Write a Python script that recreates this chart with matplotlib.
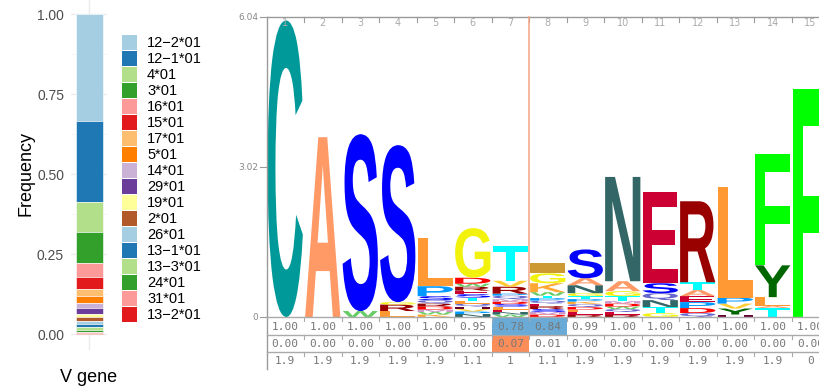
import matplotlib
matplotlib.use('Agg')
import matplotlib.pyplot as plt
from matplotlib.patches import PathPatch, Rectangle
from matplotlib.textpath import TextPath
from matplotlib.font_manager import FontProperties
from matplotlib.transforms import Affine2D
import numpy as np

# ---------------- data ----------------
genes = ['12\u22122*01', '12\u22121*01', '4*01', '3*01', '16*01', '15*01', '17*01', '5*01',
         '14*01', '29*01', '19*01', '2*01', '26*01', '13\u22121*01', '13\u22123*01', '24*01',
         '31*01', '13\u22122*01']
freqs = [0.333, 0.253, 0.096, 0.0955, 0.045, 0.0365, 0.021, 0.0225,
         0.0178, 0.0187, 0.0094, 0.0106, 0.0113, 0.0072, 0.0085, 0.0062,
         0.0048, 0.003]
gene_colors = ['#A6CEE3', '#1F78B4', '#B2DF8A', '#33A02C', '#FB9A99', '#E31A1C',
               '#FDBF6F', '#FF7F00', '#CAB2D6', '#6A3D9A', '#FFFF99', '#B15928',
               '#A6CEE3', '#1F78B4', '#B2DF8A', '#33A02C', '#FB9A99', '#E31A1C']

positions = list(range(1, 16))
# letters per position, bottom to top: (letter, bits)
pos1 = [('C', 5.97)]
pos2 = [('A', 3.62)]
pos3 = [('W', 0.12), ('S', 3.56)]
pos4 = [('L', 0.12), ('R', 0.13), ('G', 0.05), ('S', 3.16)]
pos5 = [('K', 0.05), ('W', 0.05), ('M', 0.05), ('D', 0.06), ('R', 0.06), ('Q', 0.07),
        ('S', 0.08), ('P', 0.2), ('L', 0.97)]
pos6 = [('N', 0.06), ('P', 0.05), ('V', 0.05), ('H', 0.05), ('Q', 0.06), ('L', 0.06),
        ('T', 0.06), ('S', 0.07), ('E', 0.07), ('R', 0.08), ('W', 0.06), ('D', 0.12), ('G', 1.0)]
pos7 = [('W', 0.05), ('N', 0.05), ('E', 0.05), ('L', 0.06), ('S', 0.05), ('D', 0.05),
        ('M', 0.05), ('Q', 0.07), ('P', 0.04), ('R', 0.14), ('V', 0.12), ('T', 0.7)]
pos8 = [('D', 0.05), ('M', 0.05), ('S', 0.06), ('R', 0.06), ('E', 0.05), ('Q', 0.06),
        ('P', 0.05), ('T', 0.05), ('W', 0.07), ('K', 0.18), ('G', 0.2), ('I', 0.2)]
pos9 = [('R', 0.05), ('E', 0.05), ('L', 0.05), ('D', 0.05), ('Q', 0.06), ('K', 0.05),
        ('P', 0.05), ('T', 0.06), ('G', 0.06), ('N', 0.16), ('A', 0.14), ('S', 0.58)]
pos10 = [('R', 0.05), ('E', 0.05), ('Q', 0.06), ('W', 0.05), ('D', 0.06), ('M', 0.05),
         ('T', 0.1), ('G', 0.1), ('A', 0.2), ('N', 2.1)]
pos11 = [('G', 0.08), ('T', 0.12), ('N', 0.14), ('Q', 0.14), ('S', 0.2), ('E', 1.83)]
pos12 = [('Q', 0.08), ('D', 0.1), ('P', 0.12), ('E', 0.12), ('A', 0.12), ('T', 0.16), ('R', 1.63)]
pos13 = [('H', 0.05), ('Y', 0.12), ('V', 0.1), ('P', 0.12), ('L', 2.23)]
pos14 = [('T', 0.18), ('A', 0.04), ('L', 0.18), ('Y', 0.64), ('F', 2.25)]
pos15 = [('F', 4.59)]
logo_columns = [pos1, pos2, pos3, pos4, pos5, pos6, pos7, pos8, pos9, pos10,
                pos11, pos12, pos13, pos14, pos15]
y_max = 6.04
y_ticks = [0, 3.02, 6.04]
y_tick_labels = ['0', '3.02', '6.04']

row1 = [1.00, 1.00, 1.00, 1.00, 1.00, 0.95, 0.78, 0.84, 0.99, 1.00, 1.00, 1.00, 1.00, 1.00, 1.00]
row2 = [0.00, 0.00, 0.00, 0.00, 0.00, 0.00, 0.07, 0.01, 0.00, 0.00, 0.00, 0.00, 0.00, 0.00, 0.00]
row3 = [1.9, 1.9, 1.9, 1.9, 1.9, 1.1, 1, 1.1, 1.9, 1.9, 1.9, 1.9, 1.9, 1.9, 0]

aa_colors = {
    'A': '#ff9966', 'C': '#009999', 'D': '#ff0000', 'E': '#cc0033', 'F': '#00ff00',
    'G': '#f2f20c', 'H': '#660033', 'I': '#cc9933', 'K': '#ffa833', 'L': '#ff9933',
    'M': '#cc99cc', 'N': '#336666', 'P': '#0099ff', 'Q': '#6666cc', 'R': '#990000',
    'S': '#0000ff', 'T': '#00ffff', 'V': '#ffcc33', 'W': '#66cc66', 'Y': '#006600',
}

# ---------------- figure ----------------
W, H = 819, 392
fig = plt.figure(figsize=(W / 100, H / 100), dpi=100)


def fx(px):
    return px / W


def fy(py):
    return 1 - py / H


sans = 'Liberation Sans'

# ---- left stacked bar ----
ax = fig.add_axes([fx(71), fy(350), 36 / W, 352 / H])
cum = np.concatenate([[0], np.cumsum(freqs[::-1])[:-1]])[::-1]
for g, f, b, c in zip(genes, freqs, cum, gene_colors):
    ax.bar(1, f, bottom=b, width=0.9, color=c, edgecolor='white', linewidth=0.4)
ax.set_xlim(0.4, 1.6)
ax.set_ylim(-0.05, 1.05)
ax.set_yticks([0, 0.25, 0.5, 0.75, 1.0])
ax.set_yticklabels(['0.00', '0.25', '0.50', '0.75', '1.00'], fontsize=10,
                   color='#4d4d4d', family=sans)
ax.set_yticks([0.125, 0.375, 0.625, 0.875], minor=True)
ax.set_xticks([1])
ax.set_xticklabels([''])
ax.tick_params(axis='both', which='both', length=0, pad=5)
ax.grid(True, which='major', color='#ebebeb', lw=1.0)
ax.grid(True, which='minor', axis='y', color='#f2f2f2', lw=0.6)
ax.set_axisbelow(True)
for s in ax.spines.values():
    s.set_visible(False)
fig.text(fx(26), fy(174), 'Frequency', rotation=90, ha='center', va='center',
         fontsize=13, family=sans)
fig.text(fx(89), fy(378), 'V gene', ha='center', va='center', fontsize=13, family=sans)

# ---- overlay in pixel coordinates ----
ov = fig.add_axes([0, 0, 1, 1], zorder=5)
ov.set_xlim(0, W)
ov.set_ylim(H, 0)
ov.axis('off')

# legend
for i, (g, c) in enumerate(zip(genes, gene_colors)):
    top = 35 + 16 * i
    ov.add_patch(Rectangle((122, top), 15, 15.3, facecolor=c, edgecolor='none'))
    ov.text(147, top + 8, g, ha='left', va='center', fontsize=10.5, family=sans)

# ---- logo ----
col_w = 37.5
x_left = 266.5
y_top, y_zero = 17, 317
axl = fig.add_axes([fx(x_left), fy(y_zero), len(positions) * col_w / W, (y_zero - y_top) / H])
axl.set_xlim(0.5, len(positions) + 0.5)
axl.set_ylim(0, y_max)
axl.axis('off')

fp = FontProperties(family='Liberation Sans', weight='bold')


def draw_letter(a, ch, x0, y0, w, h, color):
    tp = TextPath((0, 0), ch, size=1, prop=fp)
    bb = tp.get_extents()
    tr = Affine2D().translate(-bb.x0, -bb.y0).scale(w / bb.width, h / bb.height).translate(x0, y0)
    a.add_patch(PathPatch(tr.transform_path(tp), facecolor=color, edgecolor='none', lw=0))


for p, col in zip(positions, logo_columns):
    y = 0.0
    for ch, bits in col:
        draw_letter(axl, ch, p - 0.47, y, 0.94, bits, aa_colors[ch])
        y += bits

grey = '#9a9a9a'
# axes frame
ov.plot([x_left, x_left], [y_top, 369], color=grey, lw=1)
ov.plot([x_left, W], [y_top, y_top], color=grey, lw=1)
# column ticks and labels at top
for k, p in enumerate(positions):
    cx = x_left + (k + 0.5) * col_w
    ov.text(cx, 23, str(p), ha='center', va='center', fontsize=7, color='#aaaaaa',
            family='DejaVu Sans')
    if k > 0:
        bx = x_left + k * col_w
        ov.plot([bx, bx], [y_top, y_top + 5], color=grey, lw=0.8)
# y ticks
for v, lab in zip(y_ticks, y_tick_labels):
    py = y_zero - v / y_max * (y_zero - y_top)
    ov.plot([260, x_left], [py, py], color=grey, lw=0.8)
    ov.text(258, py, lab, ha='right', va='center', fontsize=6.5, color='#888888',
            family='DejaVu Sans')

# boundary line between position 7 and 8
bx78 = x_left + 7 * col_w
ov.plot([bx78, bx78], [y_top, y_zero], color='#f4a582', lw=1.1)

# table
row_tops = [317, 335, 352]
row_h = [18, 17, 17]
rows = [[f'{v:.2f}' for v in row1], [f'{v:.2f}' for v in row2], [f'{v:g}' for v in row3]]
for k in range(len(positions)):
    x0 = x_left + k * col_w
    if row1[k] < 0.9:
        ov.add_patch(Rectangle((x0, row_tops[0]), col_w, row_h[0], facecolor='#6aaad6',
                               edgecolor='none'))
    if row2[k] > 0.05:
        ov.add_patch(Rectangle((x0, row_tops[1]), col_w, row_h[1], facecolor='#fc8d59',
                               edgecolor='none'))
for ry in row_tops:
    ov.plot([x_left, W], [ry, ry], color='#aaaaaa', lw=1)
for r, (ry, rh) in enumerate(zip(row_tops, row_h)):
    for k in range(len(positions)):
        cx = x_left + (k + 0.5) * col_w
        ov.text(cx, ry + rh / 2 + 0.5, rows[r][k], ha='center', va='center', fontsize=8,
                color='#777777', family='DejaVu Sans Mono')
        if k > 0:
            bx = x_left + k * col_w
            ov.plot([bx, bx], [ry, ry + 4], color='#aaaaaa', lw=0.8)

fig.savefig('out.png', dpi=100)
